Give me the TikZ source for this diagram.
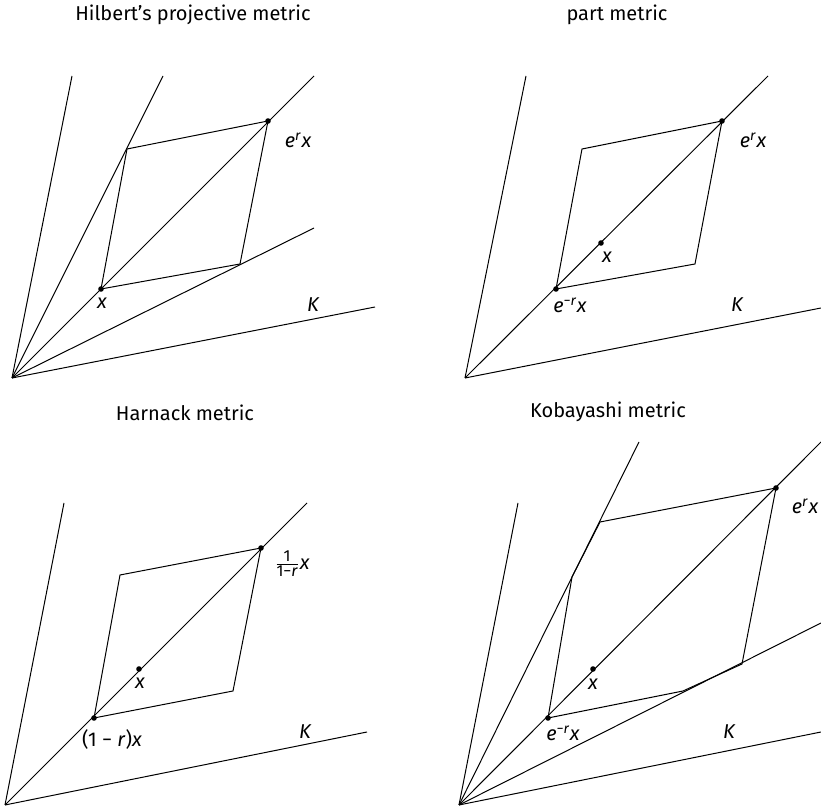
\documentclass[tikz,border=0pt]{standalone}
\usepackage{amsmath}
\usepackage{fontspec}
\setmainfont{Fira Sans}
\newcommand{\vx}{\textit{x}}
\newcommand{\erx}{\textit{e\textsuperscript{r}x}}
\newcommand{\emrx}{\textit{e\textsuperscript{−r}x}}
\tikzset{
  dot/.style={fill=black},
  lbl/.style={font=\normalsize\itshape},
}
\begin{document}
\begin{tikzpicture}[x=0.5pt,y=-0.5pt,line width=0.5pt,every node/.style={font=\normalsize}]
\useasboundingbox (0,0) rectangle (821,806);

% Hilbert's projective metric
\node (t1) at (193,15) {Hilbert's projective metric};
\coordinate (o1) at (12,378);
\foreach \a/\b in {72/76,163/76,314/76,314/228,375/307}
  \draw (o1) -- (\a,\b);
\coordinate (x1) at (101,289);
\coordinate (a1) at (127,149);
\coordinate (ex1) at (268,121);
\coordinate (b1) at (240,264);
\draw (x1) -- (a1) -- (ex1) -- (b1) -- cycle;
\fill[dot] (x1) circle (1.4pt) (ex1) circle (1.4pt);
\node[lbl] (lx1) at (102,303) {x};
\node[lbl] (lex1) at (298,140) {\erx};
\node[lbl] (k1) at (313,305) {K};

% part metric
\node (t2) at (617,15) {part metric};
\coordinate (o2) at (465,378);
\foreach \a/\b in {526/76,768/76,821/308}
  \draw (o2) -- (\a,\b);
\coordinate (em2) at (556,289);
\coordinate (x2) at (601,243);
\coordinate (a2) at (582,149);
\coordinate (ex2) at (722,121);
\coordinate (b2) at (695,264);
\draw (em2) -- (a2) -- (ex2) -- (b2) -- cycle;
\fill[dot] (em2) circle (1.4pt) (x2) circle (1.4pt) (ex2) circle (1.4pt);
\node[lbl] (lx2) at (607,257) {x};
\node[lbl] (lem2) at (570,305) {\emrx};
\node[lbl] (lex2) at (753,140) {\erx};
\node[lbl] (k2) at (737,305) {K};

% Harnack metric
\node (t3) at (185,413) {Harnack metric};
\coordinate (o3) at (5,805);
\foreach \a/\b in {64/503,307/503,367/732}
  \draw (o3) -- (\a,\b);
\coordinate (em3) at (94,718);
\coordinate (x3) at (139,669);
\coordinate (a3) at (120,575);
\coordinate (ex3) at (261,548);
\coordinate (b3) at (233,691);
\draw (em3) -- (a3) -- (ex3) -- (b3) -- cycle;
\fill[dot] (em3) circle (1.4pt) (x3) circle (1.4pt) (ex3) circle (1.4pt);
\node[lbl] (lx3) at (140,683) {x};
\node (lem3) at (112,740) {(1 − \textit{r})\textit{x}};
\node (lex3) at (292,564) {$\genfrac{}{}{0.4pt}{}{\text{\footnotesize 1}}{\text{\footnotesize 1−\itshape r}}$\vx};
\node[lbl] (k3) at (305,732) {K};

% Kobayashi metric
\node (t4) at (608,412) {Kobayashi metric};
\coordinate (o4) at (459,805);
\foreach \a/\b in {518/503,639/442,821/442,821/623,821/732}
  \draw (o4) -- (\a,\b);
\coordinate (em4) at (548,718);
\coordinate (x4) at (593,669);
\coordinate (ex4) at (776,488);
\coordinate (a4) at (572,577);
\coordinate (c4) at (600,522);
\coordinate (b4) at (742,664);
\coordinate (d4) at (683,691);
\draw (em4) -- (a4) -- (c4) -- (ex4) -- (b4) -- (d4) -- cycle;
\fill[dot] (em4) circle (1.4pt) (x4) circle (1.4pt) (ex4) circle (1.4pt);
\node[lbl] (lx4) at (593,684) {x};
\node[lbl] (lem4) at (563,733) {\emrx};
\node[lbl] (lex4) at (805,506) {\erx};
\node[lbl] (k4) at (729,732) {K};
\end{tikzpicture}
\end{document}
